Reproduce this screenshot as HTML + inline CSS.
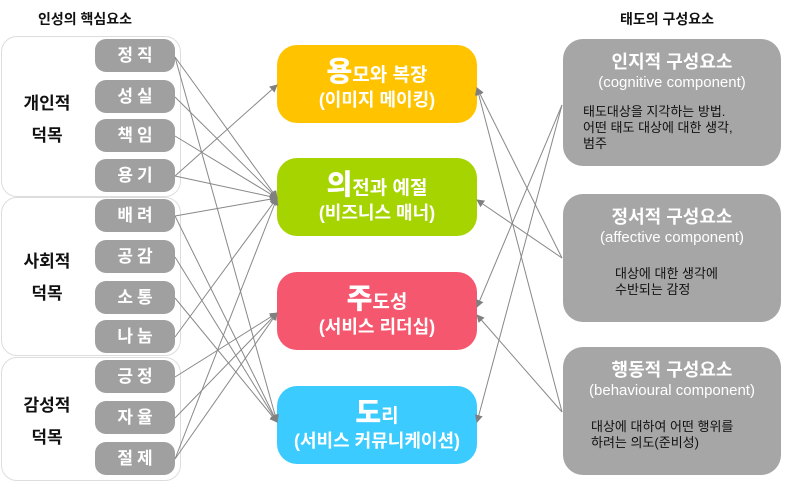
<!DOCTYPE html>
<html><head><meta charset="utf-8"><style>
body{margin:0;width:785px;height:491px;background:#fff;position:relative;overflow:hidden;font-family:"Liberation Sans","Noto Sans CJK KR",sans-serif}
.a{position:absolute}
.grp{position:absolute;left:1px;width:178px;border:1px solid #ddd;border-radius:16px;background:#fff}
.gl{position:absolute;left:0;width:90px;text-align:center;font-weight:bold;font-size:17px;line-height:32px;color:#111}
.pill{position:absolute;left:95px;width:80px;height:33px;border-radius:11px;background:#a0a0a0;color:#fff;font-weight:bold;font-size:17px;text-align:center;line-height:33px;letter-spacing:4px;text-indent:4px}
.cb{position:absolute;left:277px;width:200px;height:78px;border-radius:20px;color:#fff;text-align:center;font-weight:bold}
.cb .t{font-size:19px;margin-top:15px;line-height:24px}
.cb .t b{font-size:28px}
.cb .s{font-size:18px;line-height:24px}
.rb{position:absolute;left:563px;width:218px;height:127px;border-radius:20px;background:#a6a6a6;color:#fff}
.rb .t{text-align:center;font-size:18px;font-weight:bold;margin-top:13px;line-height:21px}
.rb .s{text-align:center;font-size:15px;line-height:20px}
.rb .d{color:#111;font-size:13px;line-height:16px;position:absolute}
</style></head><body>
<div class="a" style="left:38px;top:9px;font-size:14px;font-weight:bold;color:#111">인성의 핵심요소</div>
<div class="a" style="left:620px;top:9px;font-size:14px;font-weight:bold;color:#111">태도의 구성요소</div>

<div class="grp" style="top:36px;height:159px"><div class="gl" style="top:51px">개인적<br>덕목</div></div>
<div class="grp" style="top:197px;height:157px"><div class="gl" style="top:48px">사회적<br>덕목</div></div>
<div class="grp" style="top:357px;height:122px"><div class="gl" style="top:32px">감성적<br>덕목</div></div>

<div class="pill" style="top:39px">정직</div>
<div class="pill" style="top:80px">성실</div>
<div class="pill" style="top:119px">책임</div>
<div class="pill" style="top:159px">용기</div>
<div class="pill" style="top:199px">배려</div>
<div class="pill" style="top:240px">공감</div>
<div class="pill" style="top:281px">소통</div>
<div class="pill" style="top:320px">나눔</div>
<div class="pill" style="top:360px">긍정</div>
<div class="pill" style="top:401px">자율</div>
<div class="pill" style="top:442px">절제</div>

<div class="cb" style="top:45px;background:#ffc300"><div class="t"><b>용</b>모와 복장</div><div class="s">(이미지 메이킹)</div></div>
<div class="cb" style="top:158px;background:#a5d400"><div class="t"><b>의</b>전과 예절</div><div class="s">(비즈니스 매너)</div></div>
<div class="cb" style="top:272px;background:#f5586e"><div class="t"><b>주</b>도성</div><div class="s">(서비스 리더십)</div></div>
<div class="cb" style="top:386px;background:#3ccbff"><div class="t"><b>도</b>리</div><div class="s">(서비스 커뮤니케이션)</div></div>

<div class="rb" style="top:39px"><div class="t">인지적 구성요소</div><div class="s">(cognitive component)</div>
<div class="d" style="left:20px;top:65px">태도대상을 지각하는 방법.<br>어떤 태도 대상에 대한 생각,<br>범주</div></div>
<div class="rb" style="top:194px;height:128px"><div class="t">정서적 구성요소</div><div class="s">(affective component)</div>
<div class="d" style="left:52px;top:72px">대상에 대한 생각에<br>수반되는 감정</div></div>
<div class="rb" style="top:347px;height:128px"><div class="t">행동적 구성요소</div><div class="s">(behavioural component)</div>
<div class="d" style="left:28px;top:72px">대상에 대하여 어떤 행위를<br>하려는 의도(준비성)</div></div>

<svg class="a" style="left:0;top:0" width="785" height="491">
<defs><marker id="m" markerWidth="8" markerHeight="8" refX="7" refY="4" orient="auto" markerUnits="userSpaceOnUse"><path d="M0,0L8,4L0,8z" fill="#808080"/></marker></defs>
<g stroke="#888" stroke-width="1" fill="none" marker-end="url(#m)">
<line x1="175" y1="57" x2="277" y2="198"/>
<line x1="175" y1="57" x2="277" y2="422"/>
<line x1="175" y1="97" x2="277" y2="198"/>
<line x1="175" y1="136" x2="277" y2="198"/>
<line x1="175" y1="176" x2="277" y2="85"/>
<line x1="175" y1="176" x2="277" y2="198"/>
<line x1="175" y1="216" x2="277" y2="198"/>
<line x1="175" y1="216" x2="277" y2="422"/>
<line x1="175" y1="257" x2="277" y2="422"/>
<line x1="175" y1="298" x2="277" y2="422"/>
<line x1="175" y1="337" x2="277" y2="198"/>
<line x1="175" y1="377" x2="277" y2="313"/>
<line x1="175" y1="418" x2="277" y2="313"/>
<line x1="175" y1="459" x2="277" y2="313"/>
<line x1="175" y1="459" x2="277" y2="198"/>
<line x1="562" y1="105" x2="477" y2="307"/>
<line x1="562" y1="105" x2="477" y2="422"/>
<line x1="562" y1="258" x2="477" y2="88"/>
<line x1="562" y1="258" x2="477" y2="200"/>
<line x1="562" y1="412" x2="477" y2="88"/>
<line x1="562" y1="412" x2="477" y2="315"/>
</g></svg>
</body></html>
